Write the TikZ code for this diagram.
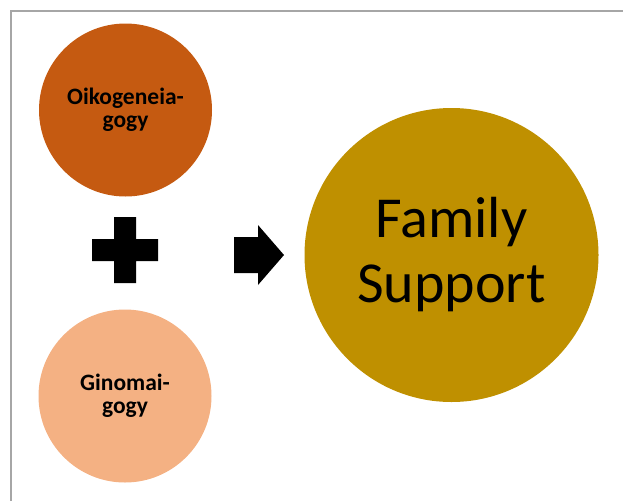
\documentclass[tikz,border=0pt]{standalone}
\usepackage{fontspec}
\setmainfont{Carlito}
\usepackage{tikz}
\usetikzlibrary{positioning}

\definecolor{rust}{HTML}{C55A11}
\definecolor{peach}{HTML}{F4B183}
\definecolor{gold}{HTML}{BF9000}
\definecolor{framegray}{HTML}{A6A6A6}

\begin{document}
\begin{tikzpicture}[x=1pt, y=-1pt, thick,
  small node/.style={circle, inner sep=0pt, minimum size=173pt, align=center,
    font=\fontsize{23.5}{23}\selectfont\bfseries},
  big node/.style={circle, inner sep=0pt, minimum size=294pt, align=center,
    font=\fontsize{58}{65}\selectfont}]

\useasboundingbox (0,0) rectangle (623,501);
\draw[framegray, line width=2.8pt] (11,501) -- (11,11) -- (623,11);

\node[small node, fill=rust] (oik) at (125.5,110) {Oikogeneia-\\gogy};
\node[small node, fill=peach] (gin) at (125,396) {Ginomai-\\gogy};
\node[big node, fill=gold] (fam) at (451.5,255) {Family\\Support};

% plus and arrow
\coordinate (plus) at (125,250);
\coordinate (arr) at (259,255);
\fill[black] (plus) ++(-11,-33) -- ++(22,0) -- ++(0,22) -- ++(22,0) -- ++(0,22)
  -- ++(-22,0) -- ++(0,22) -- ++(-22,0) -- ++(0,-22) -- ++(-22,0) -- ++(0,-22)
  -- ++(22,0) -- cycle;
\fill[black] (arr) ++(-25,-18) -- ++(24,0) -- ++(0,-12) -- ++(26,30)
  -- ++(-26,30) -- ++(0,-12) -- ++(-24,0) -- cycle;
\end{tikzpicture}
\end{document}
